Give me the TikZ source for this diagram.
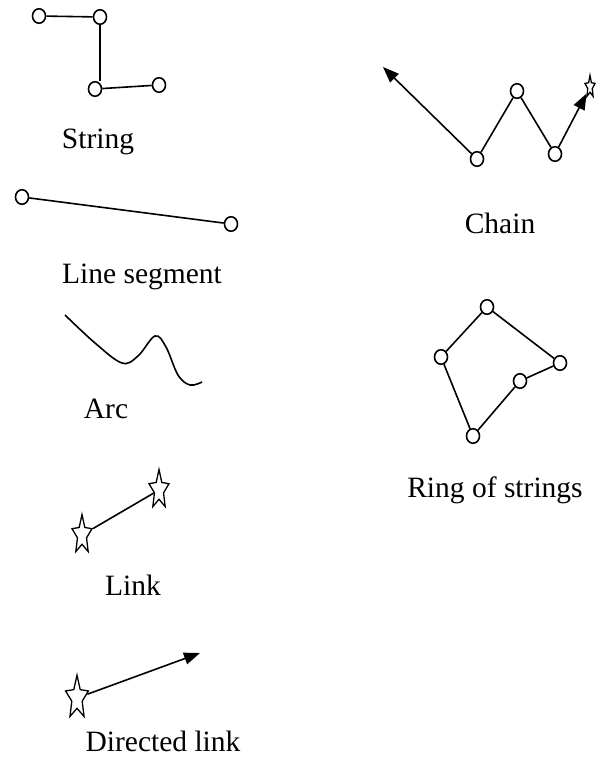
\documentclass[tikz,border=0pt]{standalone}
\usepackage{fontspec}
\setmainfont{Liberation Serif}
\usetikzlibrary{arrows.meta,shapes.geometric}

\begin{document}
\begin{tikzpicture}[x=1pt,y=-1pt,line width=1.6pt,
    vertex/.style={ellipse,draw,fill=white,inner sep=0pt,minimum width=13pt,minimum height=14.5pt},
    starnode/.style={star,star points=5,star point ratio=2.2,draw,fill=white,inner sep=0pt,line width=1.3pt},
    lbl/.style={anchor=base,font=\fontsize{29.5}{34}\selectfont},
    tip/.style={-{Triangle[length=16pt,width=12pt]}}]
        \useasboundingbox (0,0) rectangle (597,757);
        % string
        \node[vertex] (s1) at (39,16) {};
        \node[vertex] (s2) at (100,17) {};
        \node[vertex] (s3) at (95,89) {};
        \node[vertex] (s4) at (159,85) {};
        \draw (s1) -- (s2) (s2) -- (s2 |- s3.north) (s3) -- (s4);
        \node[lbl] (tstring) at (98,148) {String};
        % line segment
        \node[vertex] (g1) at (22,197) {};
        \node[vertex] (g2) at (231,224) {};
        \draw (g1) -- (g2);
        \node[lbl] (tseg) at (142,283) {Line segment};
        % arc
        \draw plot[smooth,tension=0.6] coordinates {(65,315) (95,343) (122,363) (138,356)
              (155,336) (166,347) (178,375) (190,385) (202,382)};
        \node[lbl] (tarc) at (106,418) {Arc};
        % link
        \node[starnode,minimum size=21pt,yscale=1.95] (k1) at (82,535) {};
        \node[starnode,minimum size=21pt,yscale=1.95] (k2) at (159,490) {};
        \draw (k1) -- (k2);
        \node[lbl] (tlink) at (133,595) {Link};
        % directed link
        \node[starnode,minimum size=24pt,yscale=1.9] (d1) at (77,698) {};
        \coordinate (d2) at (200,653);
        \draw[tip] (d1) -- (d2);
        \node[lbl] (tdir) at (163,751) {Directed link};
        % chain
        \coordinate (c0) at (383,67);
        \node[vertex] (c1) at (477,159) {};
        \node[vertex] (c2) at (517,91) {};
        \node[vertex] (c3) at (555,154) {};
        \node[starnode,minimum size=10.5pt,yscale=2.2] (c4) at (590,87) {};
        \draw[tip] (c1) -- (c0);
        \draw (c1) -- (c2) -- (c3);
        \draw[tip] (c3) -- (c4);
        \node[lbl] (tchain) at (500,233) {Chain};
        % ring of strings
        \node[vertex] (r1) at (487,307) {};
        \node[vertex] (r2) at (560,363) {};
        \node[vertex] (r3) at (520,381) {};
        \node[vertex] (r4) at (473,436) {};
        \node[vertex] (r5) at (441,357) {};
        \draw (r1) -- (r2) -- (r3) -- (r4) -- (r5) -- (r1);
        \node[lbl] (tring) at (495,497) {Ring of strings};
\end{tikzpicture}
\end{document}
